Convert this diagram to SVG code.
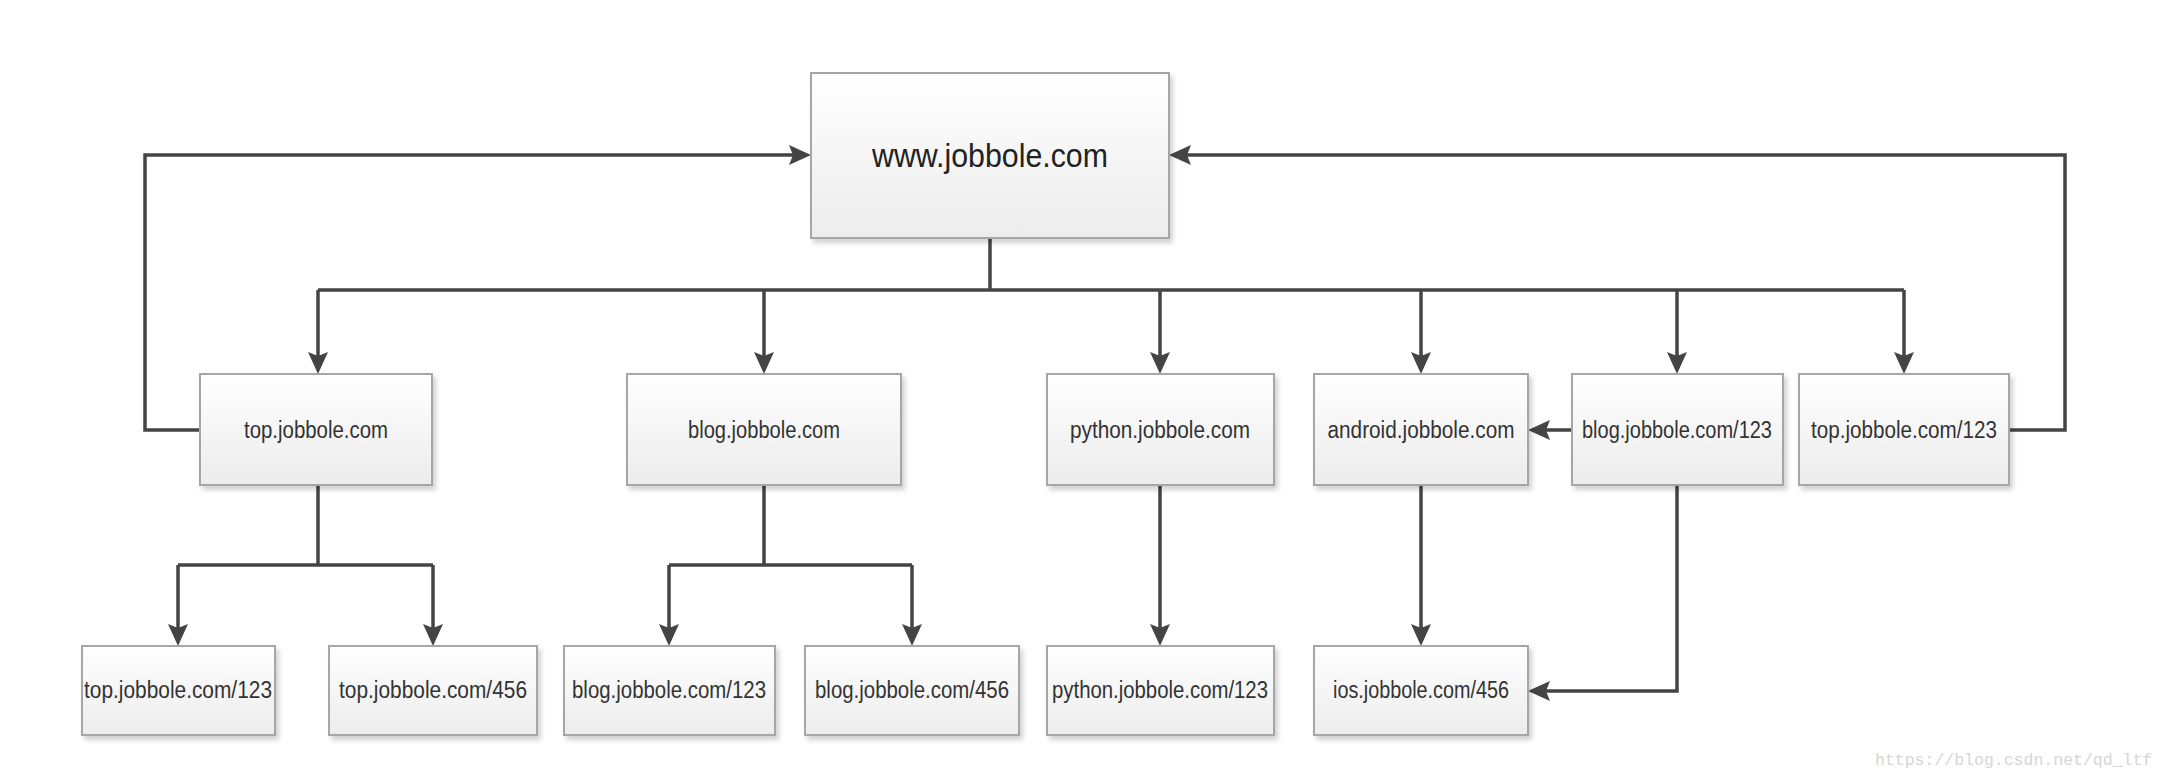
<svg xmlns="http://www.w3.org/2000/svg" width="2166" height="780" viewBox="0 0 2166 780">
<defs>
<linearGradient id="bg" x1="0" y1="0" x2="0" y2="1">
<stop offset="0" stop-color="#ffffff"/>
<stop offset="1" stop-color="#ececec"/>
</linearGradient>
<filter id="sh" x="-10%" y="-10%" width="125%" height="130%">
<feDropShadow dx="3" dy="4" stdDeviation="2.5" flood-color="#000" flood-opacity="0.18"/>
</filter>
<marker id="ah" markerUnits="userSpaceOnUse" markerWidth="24" markerHeight="22" refX="16" refY="10" orient="auto">
<path d="M0,0 L22,10 L0,20 L4,10 z" fill="#444"/>
</marker>
</defs>
<style>
.box{fill:url(#bg);stroke:#a6a6a6;stroke-width:2;filter:url(#sh)}
.t{font-family:"Liberation Sans",Arial,sans-serif;font-size:23px;fill:#333;text-anchor:middle}
.tm{font-family:"Liberation Sans",Arial,sans-serif;font-size:34px;fill:#222;text-anchor:middle}
.c{fill:none;stroke:#444;stroke-width:3.5}
.a{marker-end:url(#ah)}
</style>
<rect width="2166" height="780" fill="#ffffff"/>
<g id="connectors">
<path class="c" d="M990,238 V290"/>
<path class="c" d="M318,290 H1904"/>
<path class="c a" d="M318,290 V368"/>
<path class="c a" d="M764,290 V368"/>
<path class="c a" d="M1160,290 V368"/>
<path class="c a" d="M1421,290 V368"/>
<path class="c a" d="M1677,290 V368"/>
<path class="c a" d="M1904,290 V368"/>
<path class="c a" d="M200,430 H145 V155 H805"/>
<path class="c a" d="M2009,430 H2065 V155 H1175"/>
<path class="c a" d="M1572,430 H1534"/>
<path class="c a" d="M1677,485 V691 H1534"/>
<path class="c" d="M318,485 V565"/>
<path class="c" d="M178,565 H433"/>
<path class="c a" d="M178,565 V640"/>
<path class="c a" d="M433,565 V640"/>
<path class="c" d="M764,485 V565"/>
<path class="c" d="M669,565 H912"/>
<path class="c a" d="M669,565 V640"/>
<path class="c a" d="M912,565 V640"/>
<path class="c a" d="M1160,485 V640"/>
<path class="c a" d="M1421,485 V640"/>
</g>
<g id="n-www"><rect class="box" x="811" y="73" width="358" height="165"/><text class="tm" x="990" y="167" textLength="236" lengthAdjust="spacingAndGlyphs">www.jobbole.com</text></g>
<g id="n-top"><rect class="box" x="200" y="374" width="232" height="111"/><text class="t" x="316" y="438" textLength="144" lengthAdjust="spacingAndGlyphs">top.jobbole.com</text></g>
<g id="n-blog"><rect class="box" x="627" y="374" width="274" height="111"/><text class="t" x="764" y="438" textLength="152" lengthAdjust="spacingAndGlyphs">blog.jobbole.com</text></g>
<g id="n-python"><rect class="box" x="1047" y="374" width="227" height="111"/><text class="t" x="1160" y="438" textLength="180" lengthAdjust="spacingAndGlyphs">python.jobbole.com</text></g>
<g id="n-android"><rect class="box" x="1314" y="374" width="214" height="111"/><text class="t" x="1421" y="438" textLength="187" lengthAdjust="spacingAndGlyphs">android.jobbole.com</text></g>
<g id="n-blog123a"><rect class="box" x="1572" y="374" width="211" height="111"/><text class="t" x="1677" y="438" textLength="190" lengthAdjust="spacingAndGlyphs">blog.jobbole.com/123</text></g>
<g id="n-top123a"><rect class="box" x="1799" y="374" width="210" height="111"/><text class="t" x="1904" y="438" textLength="186" lengthAdjust="spacingAndGlyphs">top.jobbole.com/123</text></g>
<g id="n-top123"><rect class="box" x="82" y="646" width="193" height="89"/><text class="t" x="178" y="698" textLength="188" lengthAdjust="spacingAndGlyphs">top.jobbole.com/123</text></g>
<g id="n-top456"><rect class="box" x="329" y="646" width="208" height="89"/><text class="t" x="433" y="698" textLength="188" lengthAdjust="spacingAndGlyphs">top.jobbole.com/456</text></g>
<g id="n-blog123"><rect class="box" x="564" y="646" width="211" height="89"/><text class="t" x="669" y="698" textLength="194" lengthAdjust="spacingAndGlyphs">blog.jobbole.com/123</text></g>
<g id="n-blog456"><rect class="box" x="805" y="646" width="214" height="89"/><text class="t" x="912" y="698" textLength="194" lengthAdjust="spacingAndGlyphs">blog.jobbole.com/456</text></g>
<g id="n-python123"><rect class="box" x="1047" y="646" width="227" height="89"/><text class="t" x="1160" y="698" textLength="216" lengthAdjust="spacingAndGlyphs">python.jobbole.com/123</text></g>
<g id="n-ios456"><rect class="box" x="1314" y="646" width="214" height="89"/><text class="t" x="1421" y="698" textLength="176" lengthAdjust="spacingAndGlyphs">ios.jobbole.com/456</text></g>
<text x="1875" y="765" font-family="'Liberation Mono',monospace" font-size="16.5" fill="#d6d6d6">https://blog.csdn.net/qd_ltf</text>
</svg>
